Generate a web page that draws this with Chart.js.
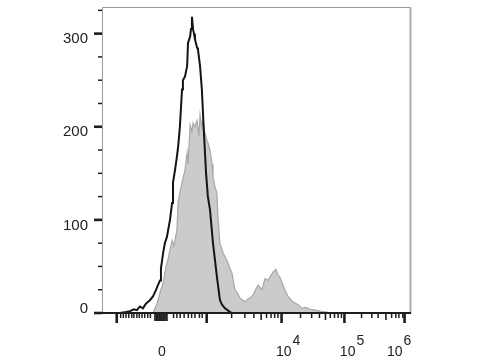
<!DOCTYPE html>
<html lang="en">
<head>
  <meta charset="UTF-8">
  <title>Histogram overlay</title>
  <script src="https://cdn.jsdelivr.net/npm/chart.js"></script>
  <style>
    body { margin: 0; background: #fff; }
  </style>
</head>
<body>
  <canvas id="viz" width="480" height="360"></canvas>

  <script>
    // histogram, display channel (0..1024) vs count
    const isotypeX = [0, 60, 80, 93, 106, 116, 126, 136, 146, 160, 170, 180, 186, 193, 196, 203, 209, 216, 226, 233,
      236, 243, 249, 253, 259, 266, 269, 276, 283, 286, 293, 296, 299, 303, 306, 309, 316, 319, 326, 332,
      339, 346, 352, 359, 369, 382, 392, 399, 409, 426, 432, 1024]
    const isotypeCounts = [0, 0, 1, 2, 4, 3, 7, 5, 10, 14, 18, 25, 30, 35, 48, 64, 75, 82, 100, 118,
      140, 154, 168, 178, 200, 240, 250, 254, 265, 290, 297, 305, 318, 304, 300, 294, 285, 283, 265, 240,
      193, 150, 125, 111, 75, 39, 14, 9, 5, 1, 0, 0]

    const stainedX = [0, 170, 176, 183, 193, 203, 213, 219, 233, 239, 249, 253, 259, 266, 276, 283, 286, 293, 299, 303,
      309, 316, 322, 326, 332, 336, 342, 349, 352, 359, 366, 369, 376, 382, 386, 392, 402, 415, 425, 432,
      442, 449, 459, 475, 485, 492, 502, 512, 519, 532, 542, 552, 559, 569, 578, 585, 592, 598, 608, 618,
      635, 652, 665, 678, 692, 708, 725, 748, 765, 1024]
    const stainedCounts = [0, 0, 5, 10, 22, 32, 50, 57, 78, 72, 89, 118, 129, 140, 154, 172, 160, 202, 195, 204,
      200, 207, 190, 213, 200, 207, 193, 185, 183, 175, 160, 146, 135, 129, 100, 75, 65, 57, 48, 43,
      25, 22, 16, 12, 15, 16, 19, 26, 30, 25, 37, 35, 39, 44, 47, 41, 38, 33, 25, 18,
      12, 9, 5, 6, 4, 3, 2, 1, 0, 0]

    // axes
    const yMajorTicks = [0, 100, 200, 300]
    const yMinorTicks = [25, 50, 75, 125, 150, 175, 225, 250, 275, 325]
    const yLabels = ['0', '100', '200', '300']

    const xMajorTicks = [49, 348, 597, 806, 1006]
    const xZeroTicks = [176, 180, 183, 186, 190, 193, 196, 199, 203, 206, 209, 213, 216]
    const xMidTicks = [529, 743, 944]
    const xMinorTicks = [62, 71, 80, 89, 99, 106, 116, 124, 133, 142, 152, 161,
      238, 249, 260, 273, 287, 298, 309, 324, 333,
      431, 475, 505, 547, 562, 574, 585,
      660, 697, 723, 759, 773, 785, 796,
      863, 897, 918, 963, 977, 987, 1000]
    const xLabelValues = [199.5, 597, 806, 1006]
    const xLabelBase = ['0', '10', '10', '10']
    const xLabelExp = ['', '4', '5', '6']

    const FONT = '"Liberation Sans", Arial, sans-serif'

    const axesPlugin = {
      id: 'facsAxes',
      afterDatasetsDraw(chart) {
        const ctx = chart.ctx
        const { left, right, top, bottom } = chart.chartArea
        const xs = chart.scales.x
        const ys = chart.scales.y

        ctx.save()
        // frame
        ctx.strokeStyle = '#9a9a9a'
        ctx.lineWidth = 1
        ctx.beginPath()
        ctx.moveTo(left + 0.5, bottom)
        ctx.lineTo(left + 0.5, top + 0.5)
        ctx.lineTo(right, top + 0.5)
        ctx.stroke()
        ctx.strokeStyle = '#ababab'
        ctx.lineWidth = 2
        ctx.beginPath()
        ctx.moveTo(right + 0.5, top)
        ctx.lineTo(right + 0.5, bottom)
        ctx.stroke()

        // bottom axis line
        ctx.strokeStyle = '#1e1e1e'
        ctx.lineWidth = 2
        ctx.beginPath()
        ctx.moveTo(left - 8, bottom)
        ctx.lineTo(right + 1, bottom)
        ctx.stroke()

        // y ticks
        ctx.lineWidth = 2.6
        yMajorTicks.forEach(v => {
          const y = ys.getPixelForValue(v)
          ctx.beginPath(); ctx.moveTo(left - 8, y); ctx.lineTo(left, y); ctx.stroke()
        })
        ctx.lineWidth = 1.5
        yMinorTicks.forEach(v => {
          const y = ys.getPixelForValue(v)
          ctx.beginPath(); ctx.moveTo(left - 4, y); ctx.lineTo(left, y); ctx.stroke()
        })

        // x ticks
        const xTick = (vals, len, w) => {
          ctx.lineWidth = w
          vals.forEach(v => {
            const x = xs.getPixelForValue(v)
            ctx.beginPath(); ctx.moveTo(x, bottom); ctx.lineTo(x, bottom + len); ctx.stroke()
          })
        }
        xTick(xMajorTicks, 10, 2.6)
        xTick(xZeroTicks, 8, 1.6)
        xTick(xMidTicks, 7, 1.6)
        xTick(xMinorTicks, 5, 1.5)

        // y labels
        ctx.fillStyle = '#222'
        ctx.font = '15px ' + FONT
        ctx.textAlign = 'right'
        ctx.textBaseline = 'middle'
        yMajorTicks.forEach((v, i) => {
          const y = ys.getPixelForValue(v) + (v === 0 ? -4 : 5.5)
          ctx.fillText(yLabels[i], left - 14, y)
        })

        // x labels
        ctx.font = '14px ' + FONT
        ctx.textBaseline = 'alphabetic'
        const shifts = [0, 1, 2, -11]
        xLabelValues.forEach((v, i) => {
          const x = xs.getPixelForValue(v) + shifts[i]
          if (!xLabelExp[i]) {
            ctx.textAlign = 'center'
            ctx.fillText(xLabelBase[i], x, 355.5)
          } else {
            ctx.textAlign = 'right'
            ctx.fillText(xLabelBase[i], x + 9, 355.5)
            ctx.textAlign = 'left'
            ctx.fillText(xLabelExp[i], x + 10, 345)
          }
        })
        ctx.restore()
      }
    }

    const toPoints = (xArr, yArr) => xArr.map((x, i) => ({ x, y: yArr[i] }))

    new Chart(document.getElementById('viz'), {
      type: 'line',
      data: {
        datasets: [{
          label: 'Isotype',
          data: toPoints(isotypeX, isotypeCounts),
          borderColor: '#141414',
          borderWidth: 2,
          fill: false,
          pointRadius: 0,
          tension: 0
        }, {
          label: 'Stained',
          data: toPoints(stainedX, stainedCounts),
          borderColor: '#a8a8a8',
          borderWidth: 1.2,
          backgroundColor: '#cbcbcb',
          fill: 'origin',
          pointRadius: 0,
          tension: 0
        }]
      },
      options: {
        responsive: false,
        animation: false,
        devicePixelRatio: 1,
        layout: { padding: { left: 102, right: 70, top: 7, bottom: 47 } },
        plugins: { legend: { display: false }, tooltip: { enabled: false } },
        scales: {
          x: { type: 'linear', min: 0, max: 1024, display: false },
          y: { type: 'linear', min: 0, max: 328.6, display: false }
        }
      },
      plugins: [axesPlugin]
    })
  </script>
</body>
</html>
